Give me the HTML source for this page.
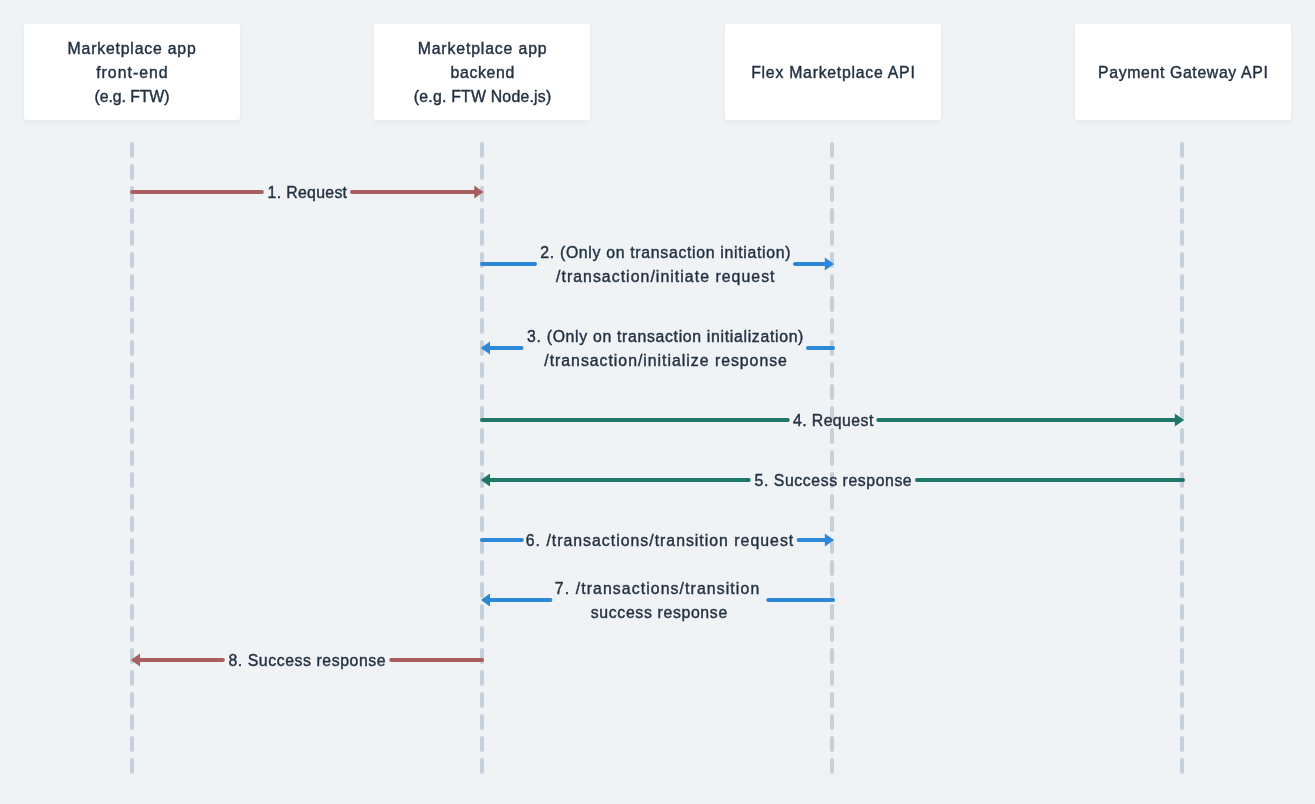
<!DOCTYPE html>
<html><head><meta charset="utf-8"><style>
html,body{margin:0;padding:0;width:1315px;height:804px;overflow:hidden;background:#f0f3f6;}
.box{position:absolute;top:24px;width:216px;height:96px;background:#fff;border-radius:3px;box-shadow:0 2px 5px rgba(40,60,80,0.06);}
svg{position:absolute;left:0;top:0;will-change:transform;}
text{font-family:"Liberation Sans",sans-serif;font-size:18.0px;fill:#223141;stroke:#223141;stroke-width:0.45px;}
</style></head><body>
<div class="box" style="left:24px"></div><div class="box" style="left:374px"></div><div class="box" style="left:725px"></div><div class="box" style="left:1075px"></div>
<svg width="1315" height="804" viewBox="0 0 1315 804">
<line x1="132" y1="144" x2="132" y2="772" stroke="#c5d0da" stroke-width="4" stroke-linecap="round" stroke-dasharray="12 10"/><line x1="482" y1="144" x2="482" y2="772" stroke="#c5d0da" stroke-width="4" stroke-linecap="round" stroke-dasharray="12 10"/><line x1="832" y1="144" x2="832" y2="772" stroke="#c5d0da" stroke-width="4" stroke-linecap="round" stroke-dasharray="12 10"/><line x1="1182" y1="144" x2="1182" y2="772" stroke="#c5d0da" stroke-width="4" stroke-linecap="round" stroke-dasharray="12 10"/>
<line x1="132" y1="192" x2="261.8" y2="192" stroke="#aa5f5f" stroke-width="4" stroke-linecap="round"/><line x1="352" y1="192" x2="476" y2="192" stroke="#aa5f5f" stroke-width="4" stroke-linecap="round"/><path d="M474.3 185.6L483.5 192L474.3 198.4Z" fill="#aa5f5f"/><line x1="482" y1="264" x2="535" y2="264" stroke="#2e88d8" stroke-width="4" stroke-linecap="round"/><line x1="795" y1="264" x2="826" y2="264" stroke="#2e88d8" stroke-width="4" stroke-linecap="round"/><path d="M824.8 257.6L834 264L824.8 270.4Z" fill="#2e88d8"/><path d="M490.0 341.6L480.8 348L490.0 354.4Z" fill="#2e88d8"/><line x1="488" y1="348" x2="521.5" y2="348" stroke="#2e88d8" stroke-width="4" stroke-linecap="round"/><line x1="808" y1="348" x2="833" y2="348" stroke="#2e88d8" stroke-width="4" stroke-linecap="round"/><line x1="482" y1="420" x2="787.8" y2="420" stroke="#1f7767" stroke-width="4" stroke-linecap="round"/><line x1="878.3" y1="420" x2="1177" y2="420" stroke="#1f7767" stroke-width="4" stroke-linecap="round"/><path d="M1174.8 413.6L1184 420L1174.8 426.4Z" fill="#1f7767"/><path d="M490.0 473.6L480.8 480L490.0 486.4Z" fill="#1f7767"/><line x1="488" y1="480" x2="748.8" y2="480" stroke="#1f7767" stroke-width="4" stroke-linecap="round"/><line x1="916.9" y1="480" x2="1183" y2="480" stroke="#1f7767" stroke-width="4" stroke-linecap="round"/><line x1="482" y1="540" x2="521.8" y2="540" stroke="#2e88d8" stroke-width="4" stroke-linecap="round"/><line x1="798.6" y1="540" x2="826" y2="540" stroke="#2e88d8" stroke-width="4" stroke-linecap="round"/><path d="M824.8 533.6L834 540L824.8 546.4Z" fill="#2e88d8"/><path d="M490.0 593.6L480.8 600L490.0 606.4Z" fill="#2e88d8"/><line x1="488" y1="600" x2="550.4" y2="600" stroke="#2e88d8" stroke-width="4" stroke-linecap="round"/><line x1="768.2" y1="600" x2="833" y2="600" stroke="#2e88d8" stroke-width="4" stroke-linecap="round"/><path d="M140.0 653.6L130.8 660L140.0 666.4Z" fill="#aa5f5f"/><line x1="138" y1="660" x2="222.9" y2="660" stroke="#aa5f5f" stroke-width="4" stroke-linecap="round"/><line x1="391.2" y1="660" x2="482" y2="660" stroke="#aa5f5f" stroke-width="4" stroke-linecap="round"/>
<text transform="translate(67.60,53.90) scale(0.88,0.92)" textLength="145.68" lengthAdjust="spacing">Marketplace app</text><text transform="translate(96.20,77.90) scale(0.88,0.92)" textLength="81.14" lengthAdjust="spacing">front-end</text><text transform="translate(94.60,101.90) scale(0.88,0.92)" textLength="85.12" lengthAdjust="spacing">(e.g. FTW)</text><text transform="translate(417.70,53.90) scale(0.88,0.92)" textLength="146.48" lengthAdjust="spacing">Marketplace app</text><text transform="translate(450.50,77.90) scale(0.88,0.92)" textLength="72.38" lengthAdjust="spacing">backend</text><text transform="translate(413.80,101.90) scale(0.88,0.92)" textLength="156.13" lengthAdjust="spacing">(e.g. FTW Node.js)</text><text transform="translate(751.20,77.90) scale(0.88,0.92)" textLength="185.91" lengthAdjust="spacing">Flex Marketplace API</text><text transform="translate(1098.10,77.90) scale(0.88,0.92)" textLength="192.84" lengthAdjust="spacing">Payment Gateway API</text><text transform="translate(267.60,198.00) scale(0.88,0.92)" textLength="90.24" lengthAdjust="spacing">1. Request</text><text transform="translate(540.30,258.00) scale(0.88,0.92)" textLength="284.33" lengthAdjust="spacing">2. (Only on transaction initiation)</text><text transform="translate(556.00,282.00) scale(0.88,0.92)" textLength="248.30" lengthAdjust="spacing">/transaction/initiate request</text><text transform="translate(527.10,342.00) scale(0.88,0.92)" textLength="313.98" lengthAdjust="spacing">3. (Only on transaction initialization)</text><text transform="translate(544.30,366.00) scale(0.88,0.92)" textLength="275.68" lengthAdjust="spacing">/transaction/initialize response</text><text transform="translate(792.90,426.00) scale(0.88,0.92)" textLength="91.37" lengthAdjust="spacing">4. Request</text><text transform="translate(754.50,486.00) scale(0.88,0.92)" textLength="178.63" lengthAdjust="spacing">5. Success response</text><text transform="translate(525.80,546.00) scale(0.88,0.92)" textLength="303.86" lengthAdjust="spacing">6. /transactions/transition request</text><text transform="translate(554.80,594.00) scale(0.88,0.92)" textLength="232.27" lengthAdjust="spacing">7. /transactions/transition</text><text transform="translate(590.80,618.00) scale(0.88,0.92)" textLength="155.00" lengthAdjust="spacing">success response</text><text transform="translate(228.40,666.00) scale(0.88,0.92)" textLength="178.63" lengthAdjust="spacing">8. Success response</text>
</svg>
</body></html>
